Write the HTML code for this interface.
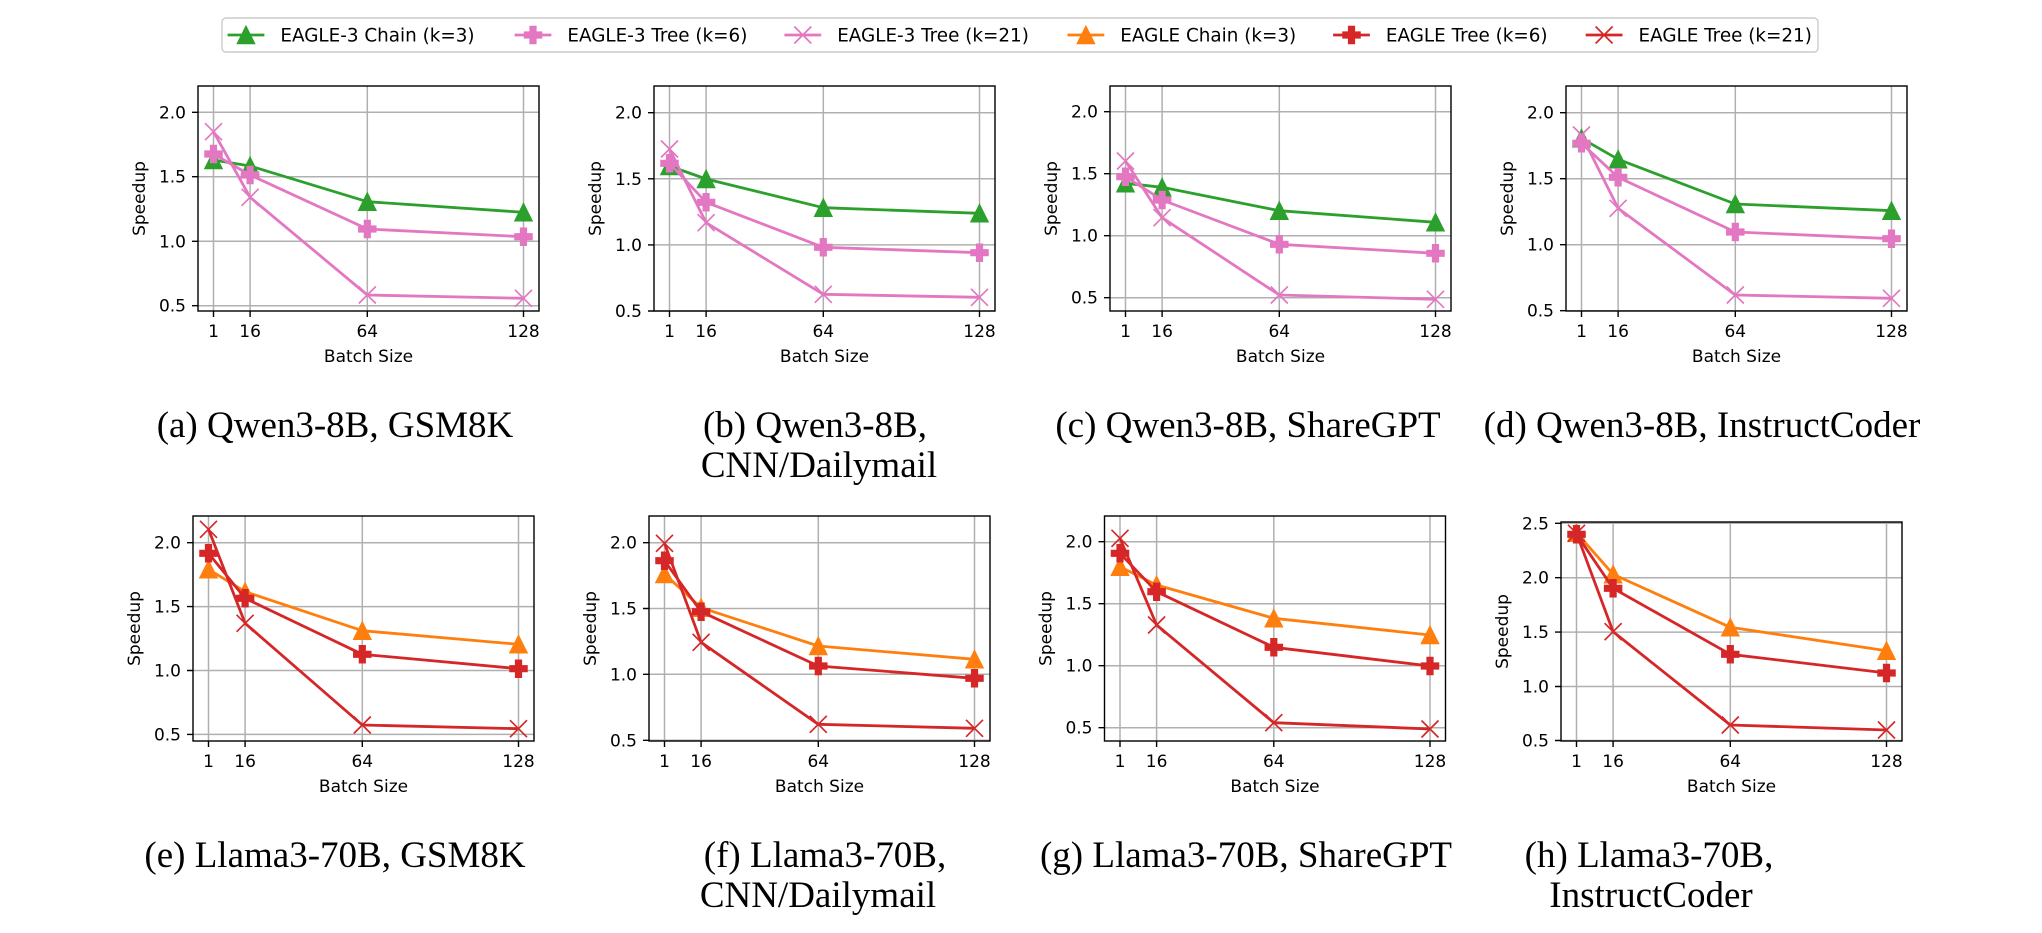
<!DOCTYPE html>
<html><head><meta charset="utf-8"><style>
html,body{margin:0;padding:0;background:#fff;}
svg{display:block;}
.t{font-family:"DejaVu Sans","Liberation Sans",sans-serif;font-size:17px;fill:#000;}
.lg{font-family:"DejaVu Sans","Liberation Sans",sans-serif;font-size:18.35px;fill:#000;}
.cap{font-family:"Liberation Serif","Times New Roman",serif;font-size:37px;fill:#000;}
.g{stroke:#b0b0b0;stroke-width:1.5;fill:none;}
.ax{stroke:#000;stroke-width:1.4;fill:none;}
.tk{stroke:#000;stroke-width:1.4;}
.ln{fill:none;stroke-width:2.8;stroke-linejoin:round;stroke-linecap:butt;}
</style></head><body>
<svg width="2042" height="933" viewBox="0 0 2042 933" xmlns="http://www.w3.org/2000/svg">
<defs>
<path id="tri" d="M0,-8.5 L-8.5,8.5 L8.5,8.5 Z"/>
<path id="pl" d="M-2.85,-8.5 H2.85 V-2.85 H8.5 V2.85 H2.85 V8.5 H-2.85 V2.85 H-8.5 V-2.85 H-2.85 Z"/>
<path id="xm" d="M-8.5,-8.5 L8.5,8.5 M-8.5,8.5 L8.5,-8.5" fill="none"/>
</defs>
<rect width="2042" height="933" fill="#fff"/>

<!-- Legend -->
<rect x="222" y="18" width="1596" height="34" rx="4" fill="#fff" stroke="#cccccc" stroke-width="1.4"/>
<line x1="227.6" y1="35" x2="264.4" y2="35" stroke="#2ca02c" stroke-width="2.8"/>
<use href="#tri" x="246" y="35" fill="#2ca02c" stroke="#2ca02c" stroke-width="1.5"/>
<text class="lg" x="280.4" y="41.6">EAGLE-3 Chain (k=3)</text>
<line x1="514.6" y1="35" x2="551.4" y2="35" stroke="#e377c2" stroke-width="2.8"/>
<use href="#pl" x="533" y="35" fill="#e377c2" stroke="#e377c2" stroke-width="1.5"/>
<text class="lg" x="567.4" y="41.6">EAGLE-3 Tree (k=6)</text>
<line x1="784.4" y1="35" x2="821.2" y2="35" stroke="#e377c2" stroke-width="2.8"/>
<use href="#xm" x="802.8" y="35" stroke="#e377c2" stroke-width="1.7"/>
<text class="lg" x="837.2" y="41.6">EAGLE-3 Tree (k=21)</text>
<line x1="1067.5" y1="35" x2="1104.3" y2="35" stroke="#ff7f0e" stroke-width="2.8"/>
<use href="#tri" x="1085.9" y="35" fill="#ff7f0e" stroke="#ff7f0e" stroke-width="1.5"/>
<text class="lg" x="1120.3" y="41.6">EAGLE Chain (k=3)</text>
<line x1="1333.1" y1="35" x2="1369.9" y2="35" stroke="#d62728" stroke-width="2.8"/>
<use href="#pl" x="1351.5" y="35" fill="#d62728" stroke="#d62728" stroke-width="1.5"/>
<text class="lg" x="1385.9" y="41.6">EAGLE Tree (k=6)</text>
<line x1="1585.7" y1="35" x2="1622.5" y2="35" stroke="#d62728" stroke-width="2.8"/>
<use href="#xm" x="1604.1" y="35" stroke="#d62728" stroke-width="1.7"/>
<text class="lg" x="1638.5" y="41.6">EAGLE Tree (k=21)</text>

<!-- ===== Panel (a) ===== -->
<g>
<path class="g" d="M213.5,86V311 M250.1,86V311 M367.3,86V311 M523.5,86V311 M198,112.3H539 M198,176.7H539 M198,241.3H539 M198,305.7H539"/>
<polyline class="ln" stroke="#2ca02c" points="213.5,160 250.1,166 367.3,201.7 523.5,212.3"/>
<g fill="#2ca02c" stroke="#2ca02c" stroke-width="1.5"><use href="#tri" x="213.5" y="160"/><use href="#tri" x="250.1" y="166"/><use href="#tri" x="367.3" y="201.7"/><use href="#tri" x="523.5" y="212.3"/></g>
<polyline class="ln" stroke="#e377c2" points="213.5,154 250.1,175 367.3,229 523.5,236.7"/>
<g fill="#e377c2" stroke="#e377c2" stroke-width="1.5"><use href="#pl" x="213.5" y="154"/><use href="#pl" x="250.1" y="175"/><use href="#pl" x="367.3" y="229"/><use href="#pl" x="523.5" y="236.7"/></g>
<polyline class="ln" stroke="#e377c2" points="213.5,131.7 250.1,197.3 367.3,295 523.5,298.3"/>
<g stroke="#e377c2" stroke-width="1.7"><use href="#xm" x="213.5" y="131.7"/><use href="#xm" x="250.1" y="197.3"/><use href="#xm" x="367.3" y="295"/><use href="#xm" x="523.5" y="298.3"/></g>
<rect class="ax" x="198" y="86" width="341" height="225"/>
<path class="tk" d="M192,112.3H198 M192,176.7H198 M192,241.3H198 M192,305.7H198 M213.5,311V317 M250.1,311V317 M367.3,311V317 M523.5,311V317"/>
<g class="t" text-anchor="end"><text x="186" y="118.3">2.0</text><text x="186" y="182.7">1.5</text><text x="186" y="247.3">1.0</text><text x="186" y="311.7">0.5</text></g>
<g class="t" text-anchor="middle"><text x="213.5" y="337">1</text><text x="250.1" y="337">16</text><text x="367.3" y="337">64</text><text x="523.5" y="337">128</text><text x="368.5" y="362">Batch Size</text></g>
<text class="t" text-anchor="middle" transform="translate(145,198.5) rotate(-90)">Speedup</text>
</g>

<!-- ===== Panel (b) ===== -->
<g>
<path class="g" d="M669.5,86V311 M706.1,86V311 M823.3,86V311 M979.5,86V311 M654,112.7H995 M654,178.8H995 M654,244.9H995 M654,311H995"/>
<polyline class="ln" stroke="#2ca02c" points="669.5,166 706.1,179 823.3,207.7 979.5,213.3"/>
<g fill="#2ca02c" stroke="#2ca02c" stroke-width="1.5"><use href="#tri" x="669.5" y="166"/><use href="#tri" x="706.1" y="179"/><use href="#tri" x="823.3" y="207.7"/><use href="#tri" x="979.5" y="213.3"/></g>
<polyline class="ln" stroke="#e377c2" points="669.5,163.3 706.1,202.3 823.3,247.3 979.5,252.7"/>
<g fill="#e377c2" stroke="#e377c2" stroke-width="1.5"><use href="#pl" x="669.5" y="163.3"/><use href="#pl" x="706.1" y="202.3"/><use href="#pl" x="823.3" y="247.3"/><use href="#pl" x="979.5" y="252.7"/></g>
<polyline class="ln" stroke="#e377c2" points="669.5,149 706.1,222.7 823.3,294.3 979.5,297.3"/>
<g stroke="#e377c2" stroke-width="1.7"><use href="#xm" x="669.5" y="149"/><use href="#xm" x="706.1" y="222.7"/><use href="#xm" x="823.3" y="294.3"/><use href="#xm" x="979.5" y="297.3"/></g>
<rect class="ax" x="654" y="86" width="341" height="225"/>
<path class="tk" d="M648,112.7H654 M648,178.8H654 M648,244.9H654 M648,311H654 M669.5,311V317 M706.1,311V317 M823.3,311V317 M979.5,311V317"/>
<g class="t" text-anchor="end"><text x="642" y="118.7">2.0</text><text x="642" y="184.8">1.5</text><text x="642" y="250.9">1.0</text><text x="642" y="317">0.5</text></g>
<g class="t" text-anchor="middle"><text x="669.5" y="337">1</text><text x="706.1" y="337">16</text><text x="823.3" y="337">64</text><text x="979.5" y="337">128</text><text x="824.5" y="362">Batch Size</text></g>
<text class="t" text-anchor="middle" transform="translate(601,198.5) rotate(-90)">Speedup</text>
</g>

<!-- ===== Panel (c) ===== -->
<g>
<path class="g" d="M1125.5,86V311 M1162.1,86V311 M1279.3,86V311 M1435.5,86V311 M1110,111.7H1451 M1110,173.7H1451 M1110,235.7H1451 M1110,297.7H1451"/>
<polyline class="ln" stroke="#2ca02c" points="1125.5,183.3 1162.1,187.3 1279.3,210.7 1435.5,222.3"/>
<g fill="#2ca02c" stroke="#2ca02c" stroke-width="1.5"><use href="#tri" x="1125.5" y="183.3"/><use href="#tri" x="1162.1" y="187.3"/><use href="#tri" x="1279.3" y="210.7"/><use href="#tri" x="1435.5" y="222.3"/></g>
<polyline class="ln" stroke="#e377c2" points="1125.5,176.7 1162.1,200 1279.3,244.3 1435.5,253.3"/>
<g fill="#e377c2" stroke="#e377c2" stroke-width="1.5"><use href="#pl" x="1125.5" y="176.7"/><use href="#pl" x="1162.1" y="200"/><use href="#pl" x="1279.3" y="244.3"/><use href="#pl" x="1435.5" y="253.3"/></g>
<polyline class="ln" stroke="#e377c2" points="1125.5,161 1162.1,217.7 1279.3,295 1435.5,299.3"/>
<g stroke="#e377c2" stroke-width="1.7"><use href="#xm" x="1125.5" y="161"/><use href="#xm" x="1162.1" y="217.7"/><use href="#xm" x="1279.3" y="295"/><use href="#xm" x="1435.5" y="299.3"/></g>
<rect class="ax" x="1110" y="86" width="341" height="225"/>
<path class="tk" d="M1104,111.7H1110 M1104,173.7H1110 M1104,235.7H1110 M1104,297.7H1110 M1125.5,311V317 M1162.1,311V317 M1279.3,311V317 M1435.5,311V317"/>
<g class="t" text-anchor="end"><text x="1098" y="117.7">2.0</text><text x="1098" y="179.7">1.5</text><text x="1098" y="241.7">1.0</text><text x="1098" y="303.7">0.5</text></g>
<g class="t" text-anchor="middle"><text x="1125.5" y="337">1</text><text x="1162.1" y="337">16</text><text x="1279.3" y="337">64</text><text x="1435.5" y="337">128</text><text x="1280.5" y="362">Batch Size</text></g>
<text class="t" text-anchor="middle" transform="translate(1057,198.5) rotate(-90)">Speedup</text>
</g>

<!-- ===== Panel (d) ===== -->
<g>
<path class="g" d="M1581.5,86V311 M1618.1,86V311 M1735.3,86V311 M1891.5,86V311 M1566,112.7H1907 M1566,178.7H1907 M1566,244.7H1907 M1566,310.7H1907"/>
<polyline class="ln" stroke="#2ca02c" points="1581.5,138.3 1618.1,159.3 1735.3,204 1891.5,210.7"/>
<g fill="#2ca02c" stroke="#2ca02c" stroke-width="1.5"><use href="#tri" x="1581.5" y="138.3"/><use href="#tri" x="1618.1" y="159.3"/><use href="#tri" x="1735.3" y="204"/><use href="#tri" x="1891.5" y="210.7"/></g>
<polyline class="ln" stroke="#e377c2" points="1581.5,143.3 1618.1,177.3 1735.3,232 1891.5,238.7"/>
<g fill="#e377c2" stroke="#e377c2" stroke-width="1.5"><use href="#pl" x="1581.5" y="143.3"/><use href="#pl" x="1618.1" y="177.3"/><use href="#pl" x="1735.3" y="232"/><use href="#pl" x="1891.5" y="238.7"/></g>
<polyline class="ln" stroke="#e377c2" points="1581.5,135 1618.1,208.3 1735.3,295 1891.5,298.3"/>
<g stroke="#e377c2" stroke-width="1.7"><use href="#xm" x="1581.5" y="135"/><use href="#xm" x="1618.1" y="208.3"/><use href="#xm" x="1735.3" y="295"/><use href="#xm" x="1891.5" y="298.3"/></g>
<rect class="ax" x="1566" y="86" width="341" height="225"/>
<path class="tk" d="M1560,112.7H1566 M1560,178.7H1566 M1560,244.7H1566 M1560,310.7H1566 M1581.5,311V317 M1618.1,311V317 M1735.3,311V317 M1891.5,311V317"/>
<g class="t" text-anchor="end"><text x="1554" y="118.7">2.0</text><text x="1554" y="184.7">1.5</text><text x="1554" y="250.7">1.0</text><text x="1554" y="316.7">0.5</text></g>
<g class="t" text-anchor="middle"><text x="1581.5" y="337">1</text><text x="1618.1" y="337">16</text><text x="1735.3" y="337">64</text><text x="1891.5" y="337">128</text><text x="1736.5" y="362">Batch Size</text></g>
<text class="t" text-anchor="middle" transform="translate(1513,198.5) rotate(-90)">Speedup</text>
</g>

<!-- ===== Panel (e) ===== -->
<g>
<path class="g" d="M208.5,516V741 M245.1,516V741 M362.3,516V741 M518.5,516V741 M193,542.7H534 M193,606.6H534 M193,670.5H534 M193,734.4H534"/>
<polyline class="ln" stroke="#ff7f0e" points="208.5,569.3 245.1,591.7 362.3,630.7 518.5,644.3"/>
<g fill="#ff7f0e" stroke="#ff7f0e" stroke-width="1.5"><use href="#tri" x="208.5" y="569.3"/><use href="#tri" x="245.1" y="591.7"/><use href="#tri" x="362.3" y="630.7"/><use href="#tri" x="518.5" y="644.3"/></g>
<polyline class="ln" stroke="#d62728" points="208.5,553.3 245.1,598.3 362.3,654.3 518.5,668.7"/>
<g fill="#d62728" stroke="#d62728" stroke-width="1.5"><use href="#pl" x="208.5" y="553.3"/><use href="#pl" x="245.1" y="598.3"/><use href="#pl" x="362.3" y="654.3"/><use href="#pl" x="518.5" y="668.7"/></g>
<polyline class="ln" stroke="#d62728" points="208.5,529.3 245.1,623.3 362.3,725 518.5,728.7"/>
<g stroke="#d62728" stroke-width="1.7"><use href="#xm" x="208.5" y="529.3"/><use href="#xm" x="245.1" y="623.3"/><use href="#xm" x="362.3" y="725"/><use href="#xm" x="518.5" y="728.7"/></g>
<rect class="ax" x="193" y="516" width="341" height="225"/>
<path class="tk" d="M187,542.7H193 M187,606.6H193 M187,670.5H193 M187,734.4H193 M208.5,741V747 M245.1,741V747 M362.3,741V747 M518.5,741V747"/>
<g class="t" text-anchor="end"><text x="181" y="548.7">2.0</text><text x="181" y="612.6">1.5</text><text x="181" y="676.5">1.0</text><text x="181" y="740.4">0.5</text></g>
<g class="t" text-anchor="middle"><text x="208.5" y="767">1</text><text x="245.1" y="767">16</text><text x="362.3" y="767">64</text><text x="518.5" y="767">128</text><text x="363.5" y="792">Batch Size</text></g>
<text class="t" text-anchor="middle" transform="translate(140,628.5) rotate(-90)">Speedup</text>
</g>

<!-- ===== Panel (f) ===== -->
<g>
<path class="g" d="M664.5,516V741 M701.1,516V741 M818.3,516V741 M974.5,516V741 M649,542.7H990 M649,608.5H990 M649,674.3H990 M649,740.3H990"/>
<polyline class="ln" stroke="#ff7f0e" points="664.5,574 701.1,607.7 818.3,646 974.5,659.3"/>
<g fill="#ff7f0e" stroke="#ff7f0e" stroke-width="1.5"><use href="#tri" x="664.5" y="574"/><use href="#tri" x="701.1" y="607.7"/><use href="#tri" x="818.3" y="646"/><use href="#tri" x="974.5" y="659.3"/></g>
<polyline class="ln" stroke="#d62728" points="664.5,560.7 701.1,611.7 818.3,666 974.5,678.3"/>
<g fill="#d62728" stroke="#d62728" stroke-width="1.5"><use href="#pl" x="664.5" y="560.7"/><use href="#pl" x="701.1" y="611.7"/><use href="#pl" x="818.3" y="666"/><use href="#pl" x="974.5" y="678.3"/></g>
<polyline class="ln" stroke="#d62728" points="664.5,543.3 701.1,642.3 818.3,724.3 974.5,728.3"/>
<g stroke="#d62728" stroke-width="1.7"><use href="#xm" x="664.5" y="543.3"/><use href="#xm" x="701.1" y="642.3"/><use href="#xm" x="818.3" y="724.3"/><use href="#xm" x="974.5" y="728.3"/></g>
<rect class="ax" x="649" y="516" width="341" height="225"/>
<path class="tk" d="M643,542.7H649 M643,608.5H649 M643,674.3H649 M643,740.3H649 M664.5,741V747 M701.1,741V747 M818.3,741V747 M974.5,741V747"/>
<g class="t" text-anchor="end"><text x="637" y="548.7">2.0</text><text x="637" y="614.5">1.5</text><text x="637" y="680.3">1.0</text><text x="637" y="746.3">0.5</text></g>
<g class="t" text-anchor="middle"><text x="664.5" y="767">1</text><text x="701.1" y="767">16</text><text x="818.3" y="767">64</text><text x="974.5" y="767">128</text><text x="819.5" y="792">Batch Size</text></g>
<text class="t" text-anchor="middle" transform="translate(596,628.5) rotate(-90)">Speedup</text>
</g>

<!-- ===== Panel (g) ===== -->
<g>
<path class="g" d="M1120,516V741 M1156.6,516V741 M1273.8,516V741 M1430,516V741 M1104.5,541.7H1445.5 M1104.5,603.7H1445.5 M1104.5,665.7H1445.5 M1104.5,727.7H1445.5"/>
<polyline class="ln" stroke="#ff7f0e" points="1120,566.7 1156.6,585 1273.8,618.3 1430,635"/>
<g fill="#ff7f0e" stroke="#ff7f0e" stroke-width="1.5"><use href="#tri" x="1120" y="566.7"/><use href="#tri" x="1156.6" y="585"/><use href="#tri" x="1273.8" y="618.3"/><use href="#tri" x="1430" y="635"/></g>
<polyline class="ln" stroke="#d62728" points="1120,553.3 1156.6,591.7 1273.8,647.3 1430,666"/>
<g fill="#d62728" stroke="#d62728" stroke-width="1.5"><use href="#pl" x="1120" y="553.3"/><use href="#pl" x="1156.6" y="591.7"/><use href="#pl" x="1273.8" y="647.3"/><use href="#pl" x="1430" y="666"/></g>
<polyline class="ln" stroke="#d62728" points="1120,538.3 1156.6,625 1273.8,722.7 1430,729"/>
<g stroke="#d62728" stroke-width="1.7"><use href="#xm" x="1120" y="538.3"/><use href="#xm" x="1156.6" y="625"/><use href="#xm" x="1273.8" y="722.7"/><use href="#xm" x="1430" y="729"/></g>
<rect class="ax" x="1104.5" y="516" width="341" height="225"/>
<path class="tk" d="M1098.5,541.7H1104.5 M1098.5,603.7H1104.5 M1098.5,665.7H1104.5 M1098.5,727.7H1104.5 M1120,741V747 M1156.6,741V747 M1273.8,741V747 M1430,741V747"/>
<g class="t" text-anchor="end"><text x="1092.5" y="547.7">2.0</text><text x="1092.5" y="609.7">1.5</text><text x="1092.5" y="671.7">1.0</text><text x="1092.5" y="733.7">0.5</text></g>
<g class="t" text-anchor="middle"><text x="1120" y="767">1</text><text x="1156.6" y="767">16</text><text x="1273.8" y="767">64</text><text x="1430" y="767">128</text><text x="1275" y="792">Batch Size</text></g>
<text class="t" text-anchor="middle" transform="translate(1051.5,628.5) rotate(-90)">Speedup</text>
</g>

<!-- ===== Panel (h) ===== -->
<g>
<path class="g" d="M1576.5,522V741 M1613.1,522V741 M1730.3,522V741 M1886.5,522V741 M1561,523.3H1902 M1561,577.7H1902 M1561,632.1H1902 M1561,686.5H1902 M1561,740.5H1902"/>
<polyline class="ln" stroke="#ff7f0e" points="1576.5,532.7 1613.1,574.3 1730.3,627.3 1886.5,650.7"/>
<g fill="#ff7f0e" stroke="#ff7f0e" stroke-width="1.5"><use href="#tri" x="1576.5" y="532.7"/><use href="#tri" x="1613.1" y="574.3"/><use href="#tri" x="1730.3" y="627.3"/><use href="#tri" x="1886.5" y="650.7"/></g>
<polyline class="ln" stroke="#d62728" points="1576.5,534.3 1613.1,588.3 1730.3,654.3 1886.5,673"/>
<g fill="#d62728" stroke="#d62728" stroke-width="1.5"><use href="#pl" x="1576.5" y="534.3"/><use href="#pl" x="1613.1" y="588.3"/><use href="#pl" x="1730.3" y="654.3"/><use href="#pl" x="1886.5" y="673"/></g>
<polyline class="ln" stroke="#d62728" points="1576.5,533.3 1613.1,631.7 1730.3,725 1886.5,730"/>
<g stroke="#d62728" stroke-width="1.7"><use href="#xm" x="1576.5" y="533.3"/><use href="#xm" x="1613.1" y="631.7"/><use href="#xm" x="1730.3" y="725"/><use href="#xm" x="1886.5" y="730"/></g>
<rect class="ax" x="1561" y="522" width="341" height="219"/>
<path class="tk" d="M1555,523.3H1561 M1555,577.7H1561 M1555,632.1H1561 M1555,686.5H1561 M1555,740.5H1561 M1576.5,741V747 M1613.1,741V747 M1730.3,741V747 M1886.5,741V747"/>
<g class="t" text-anchor="end"><text x="1549" y="529.3">2.5</text><text x="1549" y="583.7">2.0</text><text x="1549" y="638.1">1.5</text><text x="1549" y="692.5">1.0</text><text x="1549" y="746.5">0.5</text></g>
<g class="t" text-anchor="middle"><text x="1576.5" y="767">1</text><text x="1613.1" y="767">16</text><text x="1730.3" y="767">64</text><text x="1886.5" y="767">128</text><text x="1731.5" y="792">Batch Size</text></g>
<text class="t" text-anchor="middle" transform="translate(1508,631.5) rotate(-90)">Speedup</text>
</g>

<!-- Captions -->
<g class="cap" text-anchor="middle">
<text x="335" y="437">(a) Qwen3-8B, GSM8K</text>
<text x="815" y="437">(b) Qwen3-8B,</text>
<text x="819" y="477">CNN/Dailymail</text>
<text x="1248" y="437">(c) Qwen3-8B, ShareGPT</text>
<text x="1702" y="437">(d) Qwen3-8B, InstructCoder</text>
<text x="335" y="867">(e) Llama3-70B, GSM8K</text>
<text x="825" y="867">(f) Llama3-70B,</text>
<text x="818" y="907">CNN/Dailymail</text>
<text x="1246" y="867">(g) Llama3-70B, ShareGPT</text>
<text x="1649" y="867">(h) Llama3-70B,</text>
<text x="1651" y="907">InstructCoder</text>
</g>
</svg>
</body></html>
